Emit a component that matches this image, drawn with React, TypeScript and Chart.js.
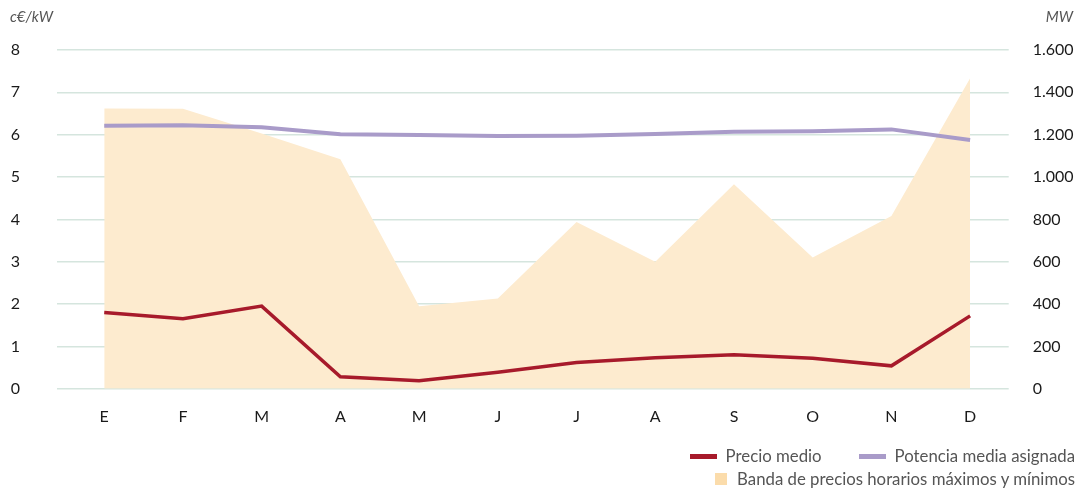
import React, { useEffect, useRef } from "react";
import { Chart, registerables } from "chart.js";

Chart.register(...registerables);

// Monthly categories (Spanish initials)
const months = ["E", "F", "M", "A", "M", "J", "J", "A", "S", "O", "N", "D"];
// Upper edge of the hourly price band, c€/kW
const priceBandMax = [6.62, 6.61, 6.03, 5.42, 1.95, 2.13, 3.94, 3.0, 4.83, 3.1, 4.08, 7.33];
// Average price, c€/kW
const avgPrice = [1.8, 1.65, 1.95, 0.28, 0.19, 0.39, 0.62, 0.73, 0.8, 0.72, 0.54, 1.72];
// Average assigned power, MW
const assignedPower = [1242, 1244, 1235, 1202, 1198, 1194, 1195, 1203, 1214, 1216, 1225, 1175];

const priceTicks = [0, 1, 2, 3, 4, 5, 6, 7, 8];
const powerTicks = [0, 200, 400, 600, 800, 1000, 1200, 1400, 1600];

const FONT = "Lato, 'Open Sans', sans-serif";
const BAND = "#fdebcf";
const RED = "#a71a2b";
const PURPLE = "#a99bc9";
const GRID = "#d5e5de";

const fmtThousands = (v: number) =>
  String(Math.round(v)).replace(/\B(?=(\d{3})+(?!\d))/g, ".");

const toPoints = (arr: number[]) => arr.map((y, x) => ({ x, y }));

export default function App() {
  const canvasRef = useRef<HTMLCanvasElement | null>(null);

  useEffect(() => {
    if (!canvasRef.current) return;
    const chart = new Chart(canvasRef.current, {
      type: "line",
      data: {
        datasets: [
          {
            label: "Potencia media asignada",
            data: toPoints(assignedPower),
            yAxisID: "yPower",
            borderColor: PURPLE,
            borderWidth: 4,
            pointRadius: 0,
            tension: 0,
            fill: false,
            order: 1,
          },
          {
            label: "Precio medio",
            data: toPoints(avgPrice),
            yAxisID: "yPrice",
            borderColor: RED,
            borderWidth: 3.5,
            pointRadius: 0,
            tension: 0,
            fill: false,
            order: 2,
          },
          {
            label: "Banda de precios horarios máximos y mínimos",
            data: toPoints(priceBandMax),
            yAxisID: "yPrice",
            borderWidth: 0,
            borderColor: BAND,
            backgroundColor: BAND,
            pointRadius: 0,
            tension: 0,
            fill: "origin",
            order: 3,
          },
        ],
      },
      options: {
        animation: false,
        responsive: false,
        maintainAspectRatio: false,
        layout: { padding: { top: 50, right: 0, bottom: 65.3, left: 0 } },
        plugins: {
          legend: { display: false },
          tooltip: { enabled: false },
        },
        scales: {
          x: {
            type: "linear",
            min: -0.6,
            max: 11.49,
            border: { display: false },
            grid: { display: false, drawTicks: false },
            afterFit: (s: any) => {
              s.height = 40;
            },
            ticks: {
              stepSize: 1,
              includeBounds: false,
              autoSkip: false,
              maxRotation: 0,
              padding: 19,
              color: "#1a1a1a",
              font: { family: FONT, size: 16 },
              callback: (v: any) => months[v as number] ?? "",
            },
          },
          yPrice: {
            type: "linear",
            position: "left",
            min: 0,
            max: 8,
            border: { display: false },
            grid: { color: GRID, lineWidth: 1.5, drawTicks: false },
            afterBuildTicks: (s: any) => {
              s.ticks = priceTicks.map((value) => ({ value }));
            },
            afterFit: (s: any) => {
              s.width = 57;
            },
            ticks: {
              padding: 37,
              color: "#1a1a1a",
              font: { family: FONT, size: 16 },
              callback: (v: any) => String(v),
            },
          },
          yPower: {
            type: "linear",
            position: "right",
            min: 0,
            max: 1600,
            border: { display: false },
            grid: { display: false, drawTicks: false },
            afterBuildTicks: (s: any) => {
              s.ticks = powerTicks.map((value) => ({ value }));
            },
            afterFit: (s: any) => {
              s.width = 73.3;
            },
            ticks: {
              padding: 24,
              color: "#1a1a1a",
              font: { family: FONT, size: 16 },
              callback: (v: any) => fmtThousands(v as number),
            },
          },
        },
      },
    });
    return () => chart.destroy();
  }, []);

  const legendText: React.CSSProperties = {
    fontFamily: FONT,
    fontSize: 16.8,
    lineHeight: "16px",
    color: "#555",
    whiteSpace: "nowrap",
  };
  const lineSwatch = (color: string): React.CSSProperties => ({
    width: 27,
    height: 5,
    background: color,
    marginRight: 9,
  });
  const unit: React.CSSProperties = {
    position: "absolute",
    top: 9,
    fontFamily: FONT,
    fontStyle: "italic",
    fontSize: 15,
    lineHeight: "15px",
    color: "#555",
  };

  return (
    <div
      style={{
        position: "fixed",
        left: 0,
        top: 0,
        width: 1082,
        height: 494,
        background: "#fff",
        overflow: "hidden",
      }}
    >
      <canvas ref={canvasRef} width={1082} height={494} style={{ display: "block" }} />
      <div style={{ ...unit, left: 10 }}>c€/kW</div>
      <div style={{ ...unit, right: 9 }}>MW</div>
      <div
        style={{
          position: "absolute",
          right: 7,
          top: 448,
          display: "flex",
          alignItems: "center",
          ...legendText,
        }}
      >
        <div style={lineSwatch(RED)} />
        <span style={{ marginRight: 37 }}>Precio medio</span>
        <div style={lineSwatch(PURPLE)} />
        <span>Potencia media asignada</span>
      </div>
      <div
        style={{
          position: "absolute",
          right: 7,
          top: 471,
          display: "flex",
          alignItems: "center",
          ...legendText,
        }}
      >
        <div style={{ width: 12, height: 12, background: "#fbdcab", marginRight: 10 }} />
        <span>Banda de precios horarios máximos y mínimos</span>
      </div>
    </div>
  );
}
